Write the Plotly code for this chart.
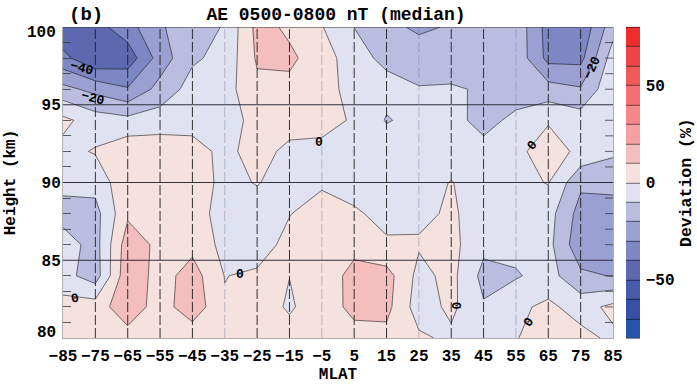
import plotly.graph_objects as go

mlat = [-85, -75, -65, -55, -45, -35, -25, -15, -5, 5, 15, 25, 35, 45, 55, 65, 75, 85]
height = [80, 82, 84, 86, 88, 90, 92, 94, 96, 98, 100]

h80 = [3, 4, 5.8, 4, 3, 3, 4, 3, 3, 6, 6.8, 1.7, -2, -3, -0.5, 5, 3, -2]
h82 = [4, 5, 16.4, 5.2, 16.4, 1, 4, -1, 4.3, 13, 13, -5, 2.2, -9, -2, 2, -4, 2.5]
h84 = [-6.5, -15, 17.6, 5.7, 14.5, -0.3, 2, 0.1, 1, 15, 14, -3, 3, -13, -11, -6, -18, -20.5]
h86 = [-5, -14, 15.5, 7.5, 7, -3, -6, 4, 5, 5.4, 1, 1, 3, -7.5, -7, -7, -27, -27]
h88 = [-14, -13.5, 8.3, 6, 5, -4.5, -3, -0.5, 6, 1, -2.2, -2, 1.2, -4, -4, -6, -24, -26]
h90 = [-7, -6.5, 7.6, 6, 4, -2, 0.4, -3, -2, -3, -4, -3, 0.3, -3.5, -3, 0.5, -18, -16]
h92 = [-3, 0.8, 6.7, 6, 3, -2, 3, -2, -2, -3, -4, -5, -4, -8, -2.6, 5, -2.5, -8.5]
h94 = [2.5, -5, -7, -5, -3, -2.5, 1.8, 3.5, 2.5, -0.8, -10.7, -7, -8, -12, -8.5, -1, -5, -3]
h96 = [-17, -23, -29, -16.5, -6, -4, 7.5, 8, 5, -4.5, -7, -9.5, -9, -11, -13, -16, -19, -2]
h98 = [-37, -49, -46, -25.5, -11.5, -7, 11.3, 11.5, 6, -7, -12, -14, -15, -14, -13, -33, -33, -5]
h100 = [-48, -44, -34, -21, -15, -9.2, 13, 8.5, 0.5, -10.1, -17, -22, -19, -16, -13, -34, -38, -14]
deviation = [h80, h82, h84, h86, h88, h90, h92, h94, h96, h98, h100]

band_colors = [
    "rgb(40,85,170)", "rgb(55,80,165)", "rgb(72,90,170)", "rgb(92,105,175)",
    "rgb(125,135,195)", "rgb(155,160,210)", "rgb(186,189,224)", "rgb(224,226,241)",
    "rgb(245,225,222)", "rgb(245,190,190)", "rgb(247,160,163)", "rgb(247,135,138)",
    "rgb(245,112,115)", "rgb(242,90,90)", "rgb(238,70,70)", "rgb(240,45,45)",
]
n = len(band_colors)
colorscale = []
for i, c in enumerate(band_colors):
    colorscale.append([i / n, c])
    colorscale.append([(i + 1) / n, c])

x_ticks = mlat
x_labels = [str(v).replace("-", "\u2212") for v in mlat]
dark_vlines = [-75, -65, -55, -45, -25, -15, 5, 15, 35, 45, 65, 75]
grey_vlines = [-35, -5, 25, 55]
hlines = [85, 90, 95]
right_ticks = [81, 82, 83, 84, 86, 87, 88, 89, 91, 92, 93, 94, 96, 97, 98, 99]

contour_labels = [
    ("\u221240", -79, 97.35, 15), ("\u221220", -75.6, 95.4, 15),
    ("0", -5.8, 92.6, 0), ("0", -30.2, 84.1, 0), ("0", -81.2, 82.55, -10),
    ("0", 60, 92.4, -50), ("\u221220", 78.6, 97.4, -65),
    ("0", 36.3, 82.05, 90), ("0", 58.9, 81, -55),
]

MONO = "Liberation Mono, monospace"

fig = go.Figure()
fig.add_trace(go.Contour(
    x=mlat, y=height, z=deviation,
    zmin=-80, zmax=80, zauto=False,
    autocontour=False,
    contours=dict(start=-80, end=80, size=10, coloring="fill", showlines=True),
    line=dict(color="rgba(0,0,0,0.9)", width=0.6, smoothing=0),
    colorscale=colorscale,
    colorbar=dict(
        x=562.6 / 550, xanchor="left", xpad=0, ypad=0, y=0.5, yanchor="middle", len=1,
        thickness=14.4, outlinewidth=0,
        tickmode="array", tickvals=[-50, 0, 50], ticks="outside", ticklen=3, tickcolor="rgba(0,0,0,0)",
        tickfont=dict(family=MONO, size=16, color="black", weight="bold"),
    ),
    hoverinfo="skip",
))

shapes = []
for v in dark_vlines:
    shapes.append(dict(type="line", x0=v, x1=v, y0=80, y1=100, xref="x", yref="y",
                       line=dict(color="rgba(30,30,30,0.9)", width=1, dash="10px,3px"), layer="above"))
for v in grey_vlines:
    shapes.append(dict(type="line", x0=v, x1=v, y0=80, y1=100, xref="x", yref="y",
                       line=dict(color="rgba(120,125,150,0.45)", width=1, dash="10px,3px"), layer="above"))
for v in hlines:
    shapes.append(dict(type="line", x0=-85, x1=85, y0=v, y1=v, xref="x", yref="y",
                       line=dict(color="rgba(30,30,40,0.9)", width=1), layer="above"))
shapes.append(dict(type="line", x0=-85, x1=85, y0=100, y1=100, xref="x", yref="y",
                   line=dict(color="rgb(50,50,50)", width=1), layer="above"))
for v in right_ticks:
    shapes.append(dict(type="line", x0=1 - 8 / 550, x1=1, y0=v, y1=v, xref="x domain", yref="y",
                       line=dict(color="rgba(50,50,50,0.75)", width=1), layer="above"))

annotations = []
for text, x, y, ang in contour_labels:
    annotations.append(dict(x=x, y=y, xref="x", yref="y", text=f"<b>{text}</b>", showarrow=False,
                            textangle=ang, font=dict(family=MONO, size=13, color="black")))
for val, shift in [(100, -6), (80, 5.5)]:
    annotations.append(dict(x=0, y=val, xref="paper", yref="y", xanchor="right", yanchor="middle", xshift=-5,
                            yshift=shift, text=f"<b>{val}</b>", showarrow=False,
                            font=dict(family=MONO, size=16, color="black")))
annotations += [
    dict(x=0.0, y=1.0, xref="paper", yref="paper", xanchor="left", yanchor="bottom", xshift=4, yshift=-1,
         text="<b>(b)</b>", showarrow=False, font=dict(family=MONO, size=19, color="black")),
    dict(x=1.0, y=0.5, xref="paper", yref="paper", xanchor="center", yanchor="middle", xshift=73.5,
         text="<b>Deviation (%)</b>", showarrow=False, textangle=-90,
         font=dict(family=MONO, size=16.5, color="black")),
]
fig.update_layout(
    width=697, height=385, autosize=False,
    margin=dict(l=62.7, r=84.3, t=26.5, b=46.5, pad=0),
    paper_bgcolor="white", plot_bgcolor="white",
    title=dict(text="<b>AE 0500-0800 nT (median)</b>", x=336 / 697, xanchor="center", y=1 - 14 / 385, yanchor="middle",
               font=dict(family=MONO, size=18, color="black")),
    shapes=shapes, annotations=annotations,
    xaxis=dict(range=[-85, 85], tickmode="array", tickvals=x_ticks, ticktext=x_labels, ticks="", showgrid=False,
               zeroline=False, showline=True, linecolor="rgb(175,175,175)", linewidth=1, mirror=False,
               ticklabelstandoff=3, automargin=False,
               tickfont=dict(family=MONO, size=16, color="black", weight="bold"),
               title=dict(text="<b>MLAT</b>", standoff=0, font=dict(family=MONO, size=16, color="black"))),
    yaxis=dict(range=[80, 100], tickmode="linear", tick0=80, dtick=5, ticks="", showgrid=False,
               zeroline=False, showline=True, linecolor="rgb(175,175,175)", linewidth=1, mirror=True,
               ticklabelstandoff=-2, automargin=False,
               labelalias={100: "\u00a0\u00a0\u00a0", 80: "\u00a0\u00a0\u00a0"},
               minor=dict(ticks="inside", ticklen=8, tickcolor="rgba(50,50,50,0.75)", tickwidth=1, dtick=1, showgrid=False),
               tickfont=dict(family=MONO, size=16, color="black", weight="bold"),
               title=dict(text="<b>Height (km)</b>", standoff=12, font=dict(family=MONO, size=16, color="black"))),
)
fig.write_html("out.html", config={"displayModeBar": False}, post_script="document.body.style.margin='0';")
